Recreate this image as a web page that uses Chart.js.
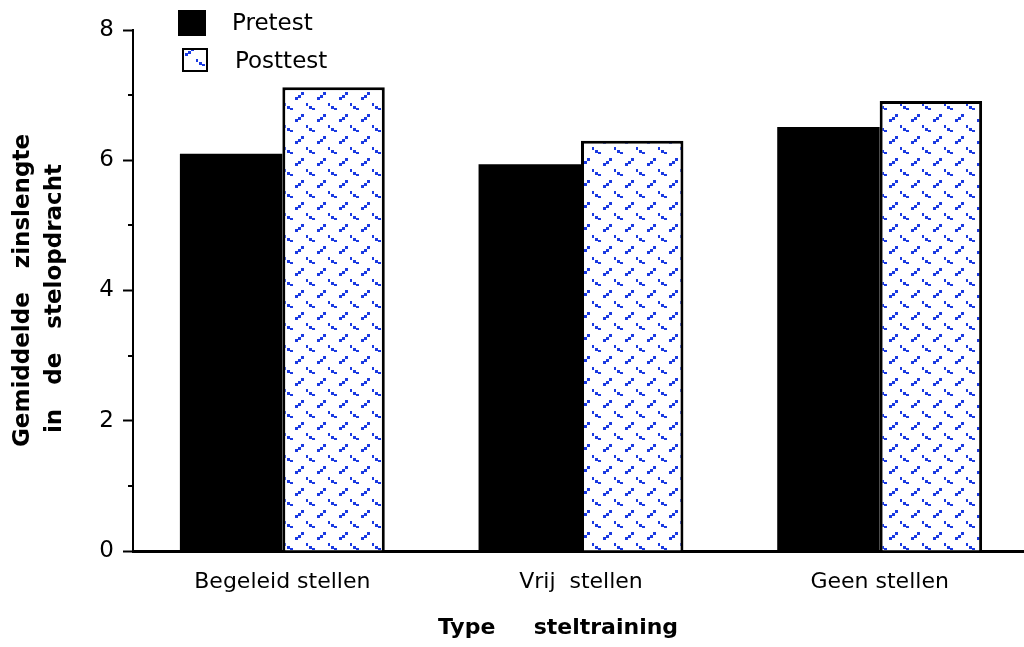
<!DOCTYPE html>
<html>
<head>
<meta charset="utf-8">
<script src="https://cdn.jsdelivr.net/npm/chart.js@4.4.1/dist/chart.umd.min.js"></script>
<style>
  html, body { margin: 0; padding: 0; background: #fff; overflow: hidden; }
  #wrap { position: relative; width: 1034px; height: 647px; }
</style>
</head>
<body>
<div id="wrap"><canvas id="chart" width="1034" height="647"></canvas></div>
<script>
// Mean sentence length per training type, before and after training
const categories = ['Begeleid stellen', 'Vrij  stellen', 'Geen stellen'];
const pretest = [6.10, 5.94, 6.51];
const posttest = [7.12, 6.30, 6.91];
const seriesNames = ['Pretest', 'Posttest'];
const majorTicks = [0, 2, 4, 6, 8];
const minorTicks = [1, 3, 5, 7];
const yTitle = ['Gemiddelde   zinslengte', 'in   de   stelopdracht  '];
const xTitle = 'Type     steltraining      ';

const FONT = 'DejaVu Sans';

// Small diagonal dot pattern used for the Posttest fill
function makePattern() {
  const tile = document.createElement('canvas');
  tile.width = 22; tile.height = 22;
  const g = tile.getContext('2d');
  g.fillStyle = '#ffffff';
  g.fillRect(0, 0, 22, 22);
  g.fillStyle = '#1a3ae2';
  const pos = [1, 4, 7, 9, 12, 15, 18, 20];
  const cells = [[5, 1], [4, 2], [3, 3], [7, 5], [0, 6], [1, 7]];
  cells.forEach(([cx, cy]) => g.fillRect(pos[cx], pos[cy], 3, 3));
  return g.createPattern(tile, 'repeat');
}

const canvas = document.getElementById('chart');
const ctx = canvas.getContext('2d');
const pattern = makePattern();

// Short unlabeled ticks between the labeled ones on the value axis
const minorTickPlugin = {
  id: 'minorTicks',
  afterDraw(chart) {
    const y = chart.scales.y;
    const left = chart.chartArea.left;
    const c = chart.ctx;
    c.save();
    c.strokeStyle = '#000';
    c.lineWidth = 2;
    minorTicks.forEach(v => {
      const py = Math.round(y.getPixelForValue(v));
      c.beginPath();
      c.moveTo(left - 5, py);
      c.lineTo(left, py);
      c.stroke();
    });
    c.restore();
  }
};

// Stacked legend in the upper left corner
const legendPlugin = {
  id: 'cornerLegend',
  afterDraw(chart) {
    const c = chart.ctx;
    const ds = chart.data.datasets;
    c.save();
    c.fillStyle = ds[0].backgroundColor;
    c.fillRect(178, 10, 28, 26);
    c.fillStyle = ds[1].backgroundColor;
    c.fillRect(182, 48, 26, 24);
    c.strokeStyle = '#000';
    c.lineWidth = 2;
    c.strokeRect(183, 49, 24, 22);
    c.fillStyle = '#000';
    c.font = '23px "' + FONT + '"';
    c.textBaseline = 'middle';
    c.textAlign = 'left';
    c.fillText(ds[0].label, 232, 24);
    c.fillText(ds[1].label, 235, 62);
    c.restore();
  }
};

new Chart(ctx, {
  type: 'bar',
  data: {
    labels: categories,
    datasets: [
      {
        label: seriesNames[0],
        data: pretest,
        backgroundColor: '#000000',
        borderWidth: 0
      },
      {
        label: seriesNames[1],
        data: posttest,
        backgroundColor: pattern,
        borderColor: '#000000',
        borderWidth: 3
      }
    ]
  },
  options: {
    responsive: false,
    animation: false,
    devicePixelRatio: 1,
    layout: { padding: { top: 30, right: 5, left: 0, bottom: 0 } },
    plugins: {
      legend: { display: false },
      tooltip: { enabled: false }
    },
    datasets: {
      bar: { barPercentage: 1.0, categoryPercentage: 0.686 }
    },
    scales: {
      x: {
        grid: { display: false, drawTicks: false },
        border: { display: true, color: '#000', width: 3 },
        ticks: {
          color: '#000',
          font: { family: FONT, size: 22 },
          padding: 18
        },
        title: {
          display: true,
          text: xTitle,
          align: 'center',
          color: '#000',
          font: { family: FONT, size: 22, weight: 'bold' },
          padding: { top: 0, bottom: 6 }
        },
        afterFit(scale) { scale.height = 96; }
      },
      y: {
        min: 0,
        max: 8,
        grid: {
          drawOnChartArea: false,
          drawTicks: true,
          tickLength: 10,
          tickWidth: 2,
          tickColor: '#000'
        },
        border: { display: true, color: '#000', width: 2 },
        ticks: {
          stepSize: 2,
          color: '#000',
          font: { family: FONT, size: 23 },
          padding: 9,
          callback: v => majorTicks.includes(v) ? String(v) : ''
        },
        title: {
          display: true,
          text: yTitle,
          color: '#000',
          font: { family: FONT, size: 23, weight: 'bold', lineHeight: 1.35 },
          padding: { top: 8, bottom: 0 }
        },
        afterFit(scale) { scale.width = 133; }
      }
    }
  },
  plugins: [minorTickPlugin, legendPlugin]
});
</script>
</body>
</html>
